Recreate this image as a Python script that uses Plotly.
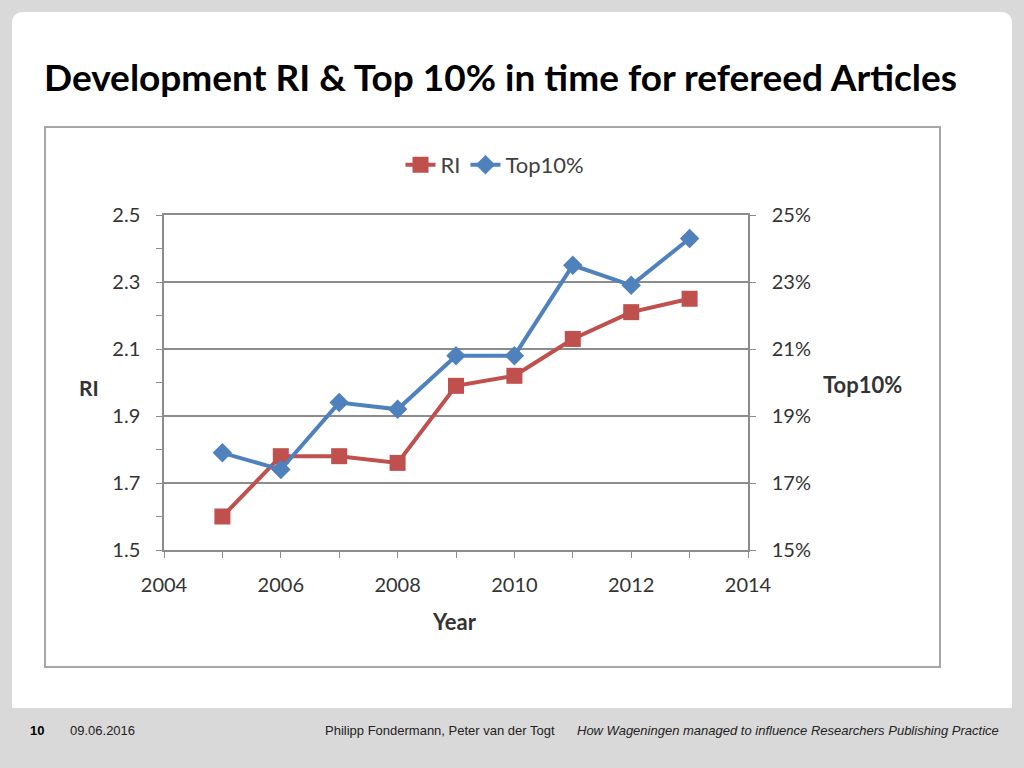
import plotly.graph_objects as go

W, H = 1024, 768

years = [2005, 2006, 2007, 2008, 2009, 2010, 2011, 2012, 2013]
ri = [1.60, 1.78, 1.78, 1.76, 1.99, 2.02, 2.13, 2.21, 2.25]
top10 = [0.179, 0.174, 0.194, 0.192, 0.208, 0.208, 0.235, 0.229, 0.243]

RED = "#C0504D"
BLUE = "#4F81BD"
GRID = "#8c8c8c"
TXT = "#333333"
FONT = "Lato, Open Sans, sans-serif"
FOOT = "Liberation Sans Narrow, Liberation Sans, sans-serif"


def px(x):
    return x / W


def py(y):
    return 1 - y / H


def note(text, x, y, size, color=TXT, family=FONT, anchor="center"):
    return dict(text=text, x=px(x), y=py(y), xref="paper", yref="paper",
                xanchor=anchor, yanchor="middle", showarrow=False,
                font=dict(family=family, size=size, color=color))


fig = go.Figure()
fig.add_trace(go.Scatter(
    x=years, y=ri, name="RI", mode="lines+markers",
    line=dict(color=RED, width=4),
    marker=dict(symbol="square", size=16, color=RED),
))
fig.add_trace(go.Scatter(
    x=years, y=top10, name="Top10%", mode="lines+markers", yaxis="y2",
    line=dict(color=BLUE, width=4),
    marker=dict(symbol="diamond", size=15, color=BLUE),
))

# slide background card + chart frame
shapes = [
    dict(type="path", xref="paper", yref="paper", layer="below",
         path=(f"M {px(24)},{py(12)} L {px(1000)},{py(12)} Q {px(1012)},{py(12)} {px(1012)},{py(24)} "
               f"L {px(1012)},{py(708)} L {px(12)},{py(708)} L {px(12)},{py(24)} "
               f"Q {px(12)},{py(12)} {px(24)},{py(12)} Z"),
         fillcolor="white", line=dict(width=0)),
    dict(type="rect", xref="paper", yref="paper", layer="below",
         x0=px(45), x1=px(940), y0=py(127), y1=py(667),
         fillcolor="white", line=dict(color="#a6a6a6", width=2)),
]

annotations = [
    note("<b>Development RI &amp; Top 10% in time for refereed Articles</b>",
         42, 77, 37, color="black", anchor="left"),
    note("<b>RI</b>", 89, 387, 21),
    note("<b>Top10%</b>", 862, 384, 22),
    note("<b>Year</b>", 454, 621, 22),
    note("<b>10</b>", 28, 730, 13, color="black", family=FOOT, anchor="left"),
    note("09.06.2016", 68, 730, 13, color="#222", family=FOOT, anchor="left"),
    note("Philipp Fondermann, Peter van der Togt", 557, 730, 13, color="#222",
         family=FOOT, anchor="right"),
    note("<i>How Wageningen managed to influence Researchers Publishing Practice</i>",
         1001, 730, 13, color="#222", family=FOOT, anchor="right"),
]

fig.update_layout(
    width=W, height=H,
    margin=dict(l=0, r=0, t=0, b=0, autoexpand=False),
    paper_bgcolor="#d9d9d9", plot_bgcolor="white",
    font=dict(family=FONT, size=20, color=TXT),
    shapes=shapes, annotations=annotations,
    legend=dict(orientation="h", x=px(495), y=py(165), xanchor="center", yanchor="middle",
                font=dict(family=FONT, size=22, color="#404040"), bgcolor="rgba(0,0,0,0)"),
    xaxis=dict(domain=[px(164), px(748)], range=[2004, 2014],
               tickvals=list(range(2004, 2015)),
               ticktext=[str(y) if y % 2 == 0 else "" for y in range(2004, 2015)],
               ticks="outside", ticklen=6, tickcolor=GRID, ticklabelstandoff=10,
               showline=True, linecolor=GRID, linewidth=1.5, mirror=True,
               showgrid=False, zeroline=False, automargin=False),
    yaxis=dict(domain=[py(550), py(215)], range=[1.5, 2.5], tick0=1.5, dtick=0.2,
               tickformat=".1f", ticks="outside", ticklen=6, tickcolor=GRID,
               ticklabelstandoff=12, showline=True, linecolor=GRID, linewidth=1.5,
               automargin=False,
               showgrid=True, gridcolor=GRID, gridwidth=1.5, zeroline=False,
               minor=dict(tick0=1.5, dtick=0.1, ticks="outside", ticklen=6,
                          tickcolor=GRID, showgrid=False)),
    yaxis2=dict(overlaying="y", side="right", anchor="x", range=[0.15, 0.25],
                tick0=0.15, dtick=0.02, tickformat=".0%", ticks="outside", ticklen=6,
                tickcolor=GRID, ticklabelstandoff=12, showline=True, linecolor=GRID,
                linewidth=1.5, showgrid=False, zeroline=False, automargin=False),
)

fig.write_html("out.html", config={"displayModeBar": False},
               post_script="document.body.style.margin='0';")
